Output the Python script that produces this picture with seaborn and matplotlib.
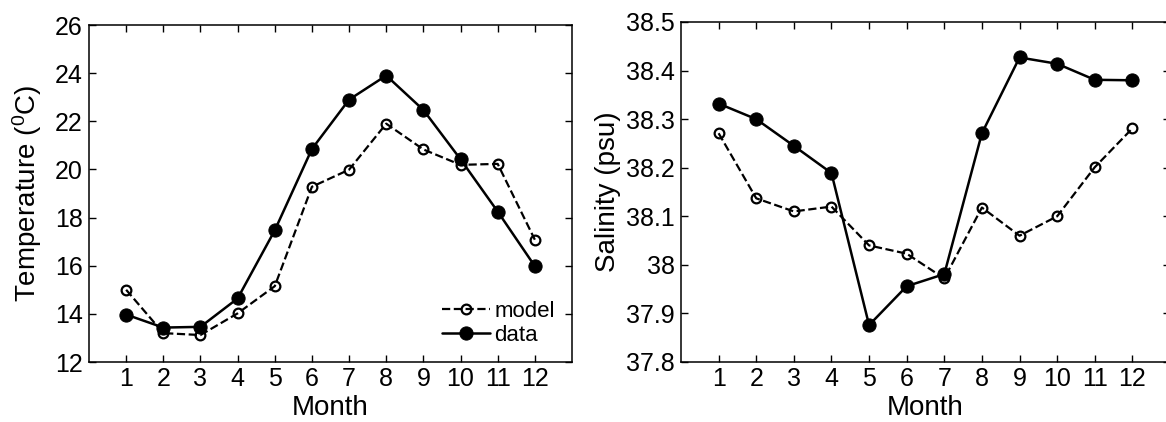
import numpy as np
import pandas as pd
import matplotlib
matplotlib.use('Agg')
import matplotlib.pyplot as plt
import seaborn as sns

# Monthly values
months = list(range(1, 13))
temp_model = [15.0, 13.2, 13.12, 14.02, 15.15, 19.28, 19.99, 21.9, 20.83, 20.19, 20.23, 17.08]
temp_data = [13.97, 13.43, 13.46, 14.64, 17.47, 20.85, 22.9, 23.9, 22.47, 20.42, 18.25, 15.98]
sal_model = [38.271, 38.137, 38.11, 38.12, 38.04, 38.023, 37.972, 38.118, 38.06, 38.1, 38.201, 38.281]
sal_data = [38.332, 38.3, 38.245, 38.189, 37.876, 37.956, 37.981, 38.271, 38.427, 38.414, 38.381, 38.38]
sal_ticks = [37.8, 37.9, 38.0, 38.1, 38.2, 38.3, 38.4, 38.5]
sal_ticklabels = ['37.8', '37.9', '38', '38.1', '38.2', '38.3', '38.4', '38.5']

sns.set_style('ticks')
plt.rcParams['font.family'] = ['Liberation Sans', 'DejaVu Sans']
plt.rcParams['mathtext.fontset'] = 'custom'
plt.rcParams['mathtext.rm'] = 'Liberation Sans'
plt.rcParams['mathtext.it'] = 'Liberation Sans:italic'
plt.rcParams['axes.edgecolor'] = 'black'
plt.rcParams['axes.linewidth'] = 1.1
plt.rcParams['xtick.color'] = 'black'
plt.rcParams['ytick.color'] = 'black'
plt.rcParams['text.color'] = 'black'
plt.rcParams['axes.labelcolor'] = 'black'

fig = plt.figure(figsize=(11.66, 4.22), dpi=100)
W, H = 1166, 422
# pixel boxes measured on the reference (the right panel runs past the edge)
ax1 = fig.add_axes([89 / W, 1 - 362 / H, (572 - 89) / W, (362 - 25) / H])
ax2 = fig.add_axes([681 / W, 1 - 362 / H, (1170 - 681) / W, (362 - 22) / H])

model_kw = dict(color='black', linestyle='--', dashes=(4, 3), linewidth=1.6, marker='o',
                markersize=7, markerfacecolor='none', markeredgecolor='black',
                markeredgewidth=1.6)
data_kw = dict(color='black', linestyle='-', linewidth=1.8, marker='o', markersize=9.5,
               markerfacecolor='black', markeredgecolor='black')

sns.lineplot(x=months, y=temp_model, ax=ax1, label='model', **model_kw)
sns.lineplot(x=months, y=temp_data, ax=ax1, label='data', **data_kw)
sns.lineplot(x=months, y=sal_model, ax=ax2, legend=False, **model_kw)
sns.lineplot(x=months, y=sal_data, ax=ax2, legend=False, **data_kw)

ax1.set_ylim(12, 26)
ax1.set_yticks(np.arange(12, 27, 2))
ax1.set_ylabel(r'Temperature ($^0$C)', fontsize=20)
ax1.yaxis.set_label_coords(-0.093, 0.5)
ax2.set_ylim(37.8, 38.5)
ax2.set_yticks(sal_ticks)
ax2.set_yticklabels(sal_ticklabels)
ax2.set_ylabel('Salinity (psu)', fontsize=20)
ax2.yaxis.set_label_coords(-0.123, 0.5)

for ax in (ax1, ax2):
    ax.set_xlim(0, 13)
    ax.set_xticks(months)
    ax.set_xlabel('Month', fontsize=20, labelpad=3)
    ax.tick_params(direction='in', top=True, right=True, labelsize=18, length=5, width=1)
    ax.tick_params(axis='y', pad=4.5)
    for s in ax.spines.values():
        s.set_visible(True)

ax1.legend(loc='lower right', bbox_to_anchor=(0.965, 0.047), frameon=False, fontsize=16,
           handlelength=2.16, handletextpad=0.22, borderaxespad=0, borderpad=0,
           labelspacing=0.15)

fig.savefig('out.png', dpi=100)
